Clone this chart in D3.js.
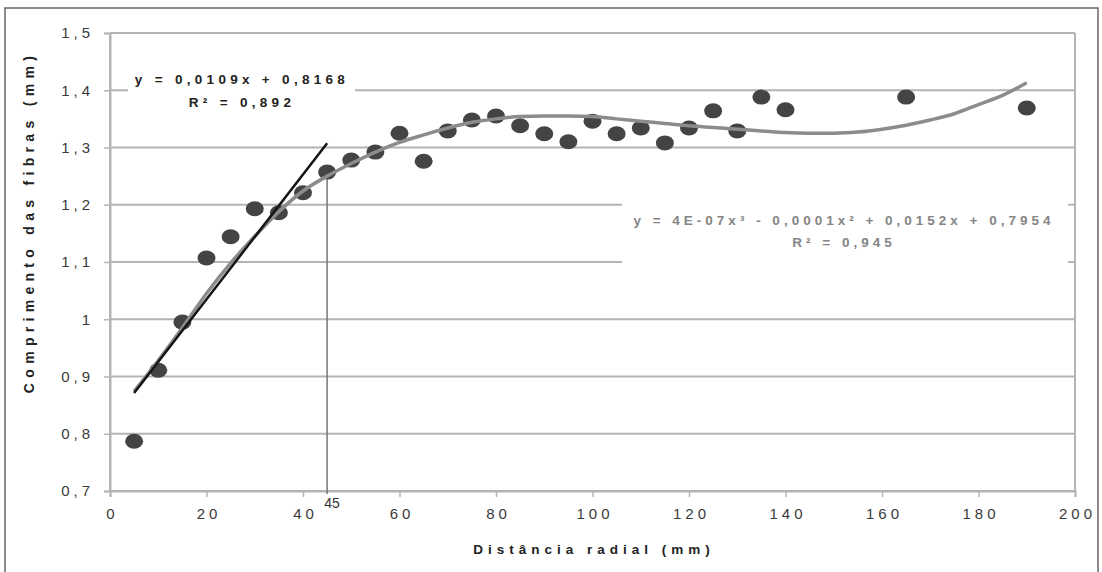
<!DOCTYPE html>
<html>
<head>
<meta charset="utf-8">
<script src="https://cdn.jsdelivr.net/npm/d3@7"></script>
<style>
  html, body { margin: 0; padding: 0; background: #fff; }
  svg { display: block; }
  text { font-family: "Liberation Sans", Arial, sans-serif; }
</style>
</head>
<body>
<svg id="chart" width="1102" height="572"></svg>
<script>
// ---- data ----
const distances = [5,10,15,20,25,30,35,40,45,50,55,60,65,70,75,80,85,90,95,100,105,110,115,120,125,130,135,140,165,190];
const lengths   = [0.787,0.911,0.995,1.107,1.144,1.193,1.186,1.221,1.257,1.278,1.292,1.325,1.276,1.329,1.348,1.355,1.338,1.324,1.310,1.346,1.324,1.334,1.308,1.334,1.364,1.329,1.388,1.366,1.388,1.369];

// polynomial trend line as drawn
const polyX = [5,10,15,20,25,30,35,40,45,50,55,60,65,70,75,80,85,90,95,100,105,110,115,120,125,130,135,140,145,150,155,160,165,170,175,180,185,190];
const polyY = [0.874,0.928,0.985,1.045,1.098,1.145,1.188,1.224,1.250,1.272,1.292,1.309,1.322,1.334,1.344,1.350,1.354,1.355,1.355,1.354,1.350,1.346,1.342,1.338,1.335,1.332,1.329,1.326,1.325,1.325,1.327,1.332,1.339,1.348,1.359,1.375,1.391,1.413];

// linear trend line endpoints
const linX = [5, 45];
const linY = [0.8713, 1.3073];

const markerX = 45;
const markerY = 1.258;

const xTicks = [0,20,40,60,80,100,120,140,160,180,200];
const yTicks = [0.7,0.8,0.9,1.0,1.1,1.2,1.3,1.4,1.5];

const eqLinear = "y = 0,0109x + 0,8168";
const r2Linear = "R² = 0,892";
const eqPoly = "y = 4E-07x³ - 0,0001x² + 0,0152x + 0,7954";
const r2Poly = "R² = 0,945";
const xTitle = "Distância radial (mm)";
const yTitle = "Comprimento das fibras (mm)";

// ---- drawing ----
const svg = d3.select("#chart");
const L = 110, R = 1075, T = 33, B = 491;
const x = d3.scaleLinear().domain([0, 200]).range([L, R]);
const y = d3.scaleLinear().domain([0.7, 1.5]).range([B, T]);
const fmt = d => d3.format(".1~f")(d).replace(".", ",");

// outer frame
svg.append("rect").attr("x", 5).attr("y", 8).attr("width", 1093).attr("height", 600)
  .attr("fill", "none").attr("stroke", "#666").attr("stroke-width", 1.5);

// gridlines
svg.append("g").selectAll("line").data(yTicks).join("line")
  .attr("x1", L).attr("x2", R).attr("y1", d => y(d)).attr("y2", d => y(d))
  .attr("stroke", "#b4b4b4").attr("stroke-width", 2);

// plot sides
svg.append("line").attr("x1", L).attr("x2", L).attr("y1", T).attr("y2", B).attr("stroke", "#b4b4b4").attr("stroke-width", 2);
svg.append("line").attr("x1", R).attr("x2", R).attr("y1", T).attr("y2", B).attr("stroke", "#b4b4b4").attr("stroke-width", 2);

// axes
const yAxis = svg.append("g").attr("transform", `translate(${L},0)`)
  .call(d3.axisLeft(y).tickValues(yTicks).tickFormat(fmt).tickSize(6).tickPadding(10));
const xAxis = svg.append("g").attr("transform", `translate(0,${B})`)
  .call(d3.axisBottom(x).tickValues(xTicks).tickFormat(d => d).tickSize(6).tickPadding(11));
[yAxis, xAxis].forEach(g => {
  g.select(".domain").attr("stroke", "#b4b4b4").attr("stroke-width", 2);
  g.selectAll(".tick line").attr("stroke", "#b4b4b4").attr("stroke-width", 1.5);
  g.selectAll(".tick text").attr("fill", "#3a3a3a").style("font-size", "15px").style("letter-spacing", "4px");
});
xAxis.selectAll(".tick text").attr("dx", "2px");

// white label boxes covering gridlines
svg.append("rect").attr("x", 128).attr("y", 62).attr("width", 227).attr("height", 52).attr("fill", "#fff");
svg.append("rect").attr("x", 622).attr("y", 198).attr("width", 446).attr("height", 70).attr("fill", "#fff");

// marker vertical line at 45
svg.append("line").attr("x1", x(markerX)).attr("x2", x(markerX)).attr("y1", y(markerY)).attr("y2", B + 3)
  .attr("stroke", "#777").attr("stroke-width", 1.5);
svg.append("text").attr("x", x(markerX) + 5).attr("y", 508).attr("text-anchor", "middle")
  .attr("fill", "#333").style("font-size", "14px").text(markerX);

// points
svg.append("g").selectAll("ellipse").data(distances).join("ellipse")
  .attr("cx", d => x(d)).attr("cy", (d, i) => y(lengths[i]))
  .attr("rx", 9).attr("ry", 7.5).attr("fill", "#444");

// polynomial trend
const line = d3.line().x(d => x(d[0])).y(d => y(d[1])).curve(d3.curveMonotoneX);
svg.append("path").datum(polyX.map((d, i) => [d, polyY[i]])).attr("d", line)
  .attr("fill", "none").attr("stroke", "#8c8c8c").attr("stroke-width", 3.5);

// linear trend
svg.append("path").datum(linX.map((d, i) => [d, linY[i]])).attr("d", d3.line().x(d => x(d[0])).y(d => y(d[1])))
  .attr("fill", "none").attr("stroke", "#151515").attr("stroke-width", 2.5);

// equations
const eqStyle = s => s.style("font-size", "13.5px").style("font-weight", "bold").style("letter-spacing", "4.3px");
svg.append("text").attr("x", 242).attr("y", 84).attr("text-anchor", "middle").attr("fill", "#222").call(eqStyle).text(eqLinear);
svg.append("text").attr("x", 242).attr("y", 107).attr("text-anchor", "middle").attr("fill", "#222").call(eqStyle).text(r2Linear);
svg.append("text").attr("x", 844).attr("y", 225).attr("text-anchor", "middle").attr("fill", "#858585").call(eqStyle).style("letter-spacing", "4px").text(eqPoly);
svg.append("text").attr("x", 844).attr("y", 247).attr("text-anchor", "middle").attr("fill", "#858585").call(eqStyle).style("letter-spacing", "4px").text(r2Poly);

// axis titles
svg.append("text").attr("x", 594).attr("y", 554).attr("text-anchor", "middle").attr("fill", "#222")
  .style("font-size", "13.5px").style("font-weight", "bold").style("letter-spacing", "5px").text(xTitle);
svg.append("text").attr("transform", "translate(34,222) rotate(-90)").attr("text-anchor", "middle").attr("fill", "#222")
  .style("font-size", "14px").style("font-weight", "bold").style("letter-spacing", "5.3px").text(yTitle);
</script>
</body>
</html>
